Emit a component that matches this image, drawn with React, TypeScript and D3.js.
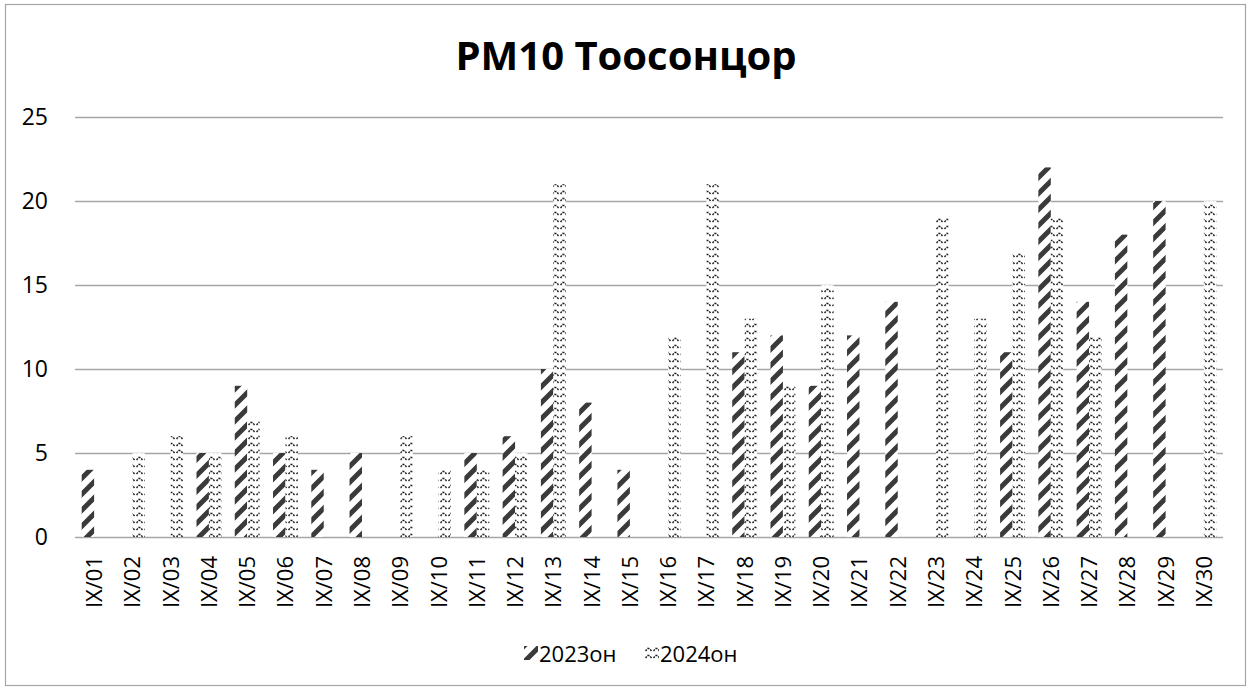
import React, { useEffect, useRef } from "react";
import * as d3 from "d3";

const days = [
  "IX/01", "IX/02", "IX/03", "IX/04", "IX/05", "IX/06", "IX/07", "IX/08", "IX/09", "IX/10",
  "IX/11", "IX/12", "IX/13", "IX/14", "IX/15", "IX/16", "IX/17", "IX/18", "IX/19", "IX/20",
  "IX/21", "IX/22", "IX/23", "IX/24", "IX/25", "IX/26", "IX/27", "IX/28", "IX/29", "IX/30",
];
const values2023 = [4, 0, 0, 5, 9, 5, 4, 5, 0, 0, 5, 6, 10, 8, 4, 0, 0, 11, 12, 9, 12, 14, 0, 0, 11, 22, 14, 18, 20, 0];
const values2024 = [0, 5, 6, 5, 7, 6, 0, 0, 6, 4, 4, 5, 21, 0, 0, 12, 21, 13, 9, 15, 0, 0, 19, 13, 17, 19, 12, 0, 0, 20];
const seriesNames = ["2023он", "2024он"];
const yTicks = [0, 5, 10, 15, 20, 25];

const FONT = "'Open Sans', 'Liberation Sans', sans-serif";

function App() {
  const ref = useRef<SVGSVGElement>(null);

  useEffect(() => {
    drawChart();
  }, []);

  function drawChart() {
    const width = 1251;
    const height = 690;
    const plot = { left: 75, right: 1223, top: 117, bottom: 537 };

    const svg = d3.select(ref.current);
    svg.selectAll("*").remove();

    const defs = svg.append("defs");

    // 2023: wide upward diagonal stripes
    const p1 = defs
      .append("pattern")
      .attr("id", "pat2023")
      .attr("patternUnits", "userSpaceOnUse")
      .attr("width", 16)
      .attr("height", 16);
    p1.append("rect").attr("width", 16).attr("height", 16).attr("fill", "#fff");
    p1.append("path")
      .attr("d", "M-4,4 L4,-4 M-2,18 L18,-2 M12,20 L20,12")
      .attr("stroke", "#3a3a3a")
      .attr("stroke-width", 5);

    // 2024: small wavy marks
    const p2 = defs
      .append("pattern")
      .attr("id", "pat2024")
      .attr("patternUnits", "userSpaceOnUse")
      .attr("width", 8)
      .attr("height", 7);
    p2.append("rect").attr("width", 8).attr("height", 7).attr("fill", "#fff");
    p2.append("path")
      .attr("d", "M0.5,5 L2.5,2.5 L4.5,2.5 L6.5,5")
      .attr("fill", "none")
      .attr("stroke", "#1e1e1e")
      .attr("stroke-width", 1.4)
      .attr("stroke-dasharray", "2,1.2");

    svg
      .append("rect")
      .attr("x", 5.5)
      .attr("y", 4.5)
      .attr("width", width - 11)
      .attr("height", height - 9)
      .attr("fill", "#fff")
      .attr("stroke", "#a6a6a6")
      .attr("stroke-width", 1.2);

    const x0 = d3
      .scaleBand()
      .domain(days)
      .range([plot.left, plot.right])
      .paddingInner(0.35)
      .paddingOuter(0.175);
    const x1 = d3
      .scaleBand()
      .domain(seriesNames)
      .range([0, x0.bandwidth()]);
    const y = d3.scaleLinear().domain([0, 25]).range([plot.bottom, plot.top]);

    // gridlines
    svg
      .append("g")
      .selectAll("line")
      .data(yTicks)
      .enter()
      .append("line")
      .attr("x1", plot.left)
      .attr("x2", plot.right)
      .attr("y1", (d) => Math.round(y(d)) + 0.5)
      .attr("y2", (d) => Math.round(y(d)) + 0.5)
      .attr("stroke", "#a6a6a6")
      .attr("stroke-width", 1.5);

    svg
      .append("g")
      .selectAll("text")
      .data(yTicks)
      .enter()
      .append("text")
      .attr("x", 48)
      .attr("y", (d) => y(d))
      .attr("dy", "0.36em")
      .attr("text-anchor", "end")
      .style("font-family", FONT)
      .style("font-size", "23px")
      .attr("fill", "#000")
      .text((d) => d);

    const series = [values2023, values2024];
    const patterns = ["url(#pat2023)", "url(#pat2024)"];

    series.forEach((vals, si) => {
      svg
        .append("g")
        .selectAll("rect")
        .data(vals.map((v, i) => ({ day: days[i], v })))
        .enter()
        .filter((d) => d.v > 0)
        .append("rect")
        .attr("x", (d) => (x0(d.day) as number) + (x1(seriesNames[si]) as number))
        .attr("y", (d) => y(d.v))
        .attr("width", x1.bandwidth())
        .attr("height", (d) => y(0) - y(d.v))
        .attr("fill", patterns[si]);
    });

    // x labels
    svg
      .append("g")
      .selectAll("text")
      .data(days)
      .enter()
      .append("text")
      .attr(
        "transform",
        (d) => `translate(${(x0(d) as number) + x0.bandwidth() / 2 + 8},556) rotate(-90)`
      )
      .attr("text-anchor", "end")
      .style("font-family", FONT)
      .style("font-size", "22px")
      .attr("fill", "#000")
      .text((d) => d);

    svg
      .append("text")
      .attr("x", 626)
      .attr("y", 70)
      .attr("text-anchor", "middle")
      .style("font-family", FONT)
      .style("font-size", "40px")
      .style("font-weight", "bold")
      .attr("fill", "#000")
      .text("PM10 Тоосонцор");

    // legend
    const legendX = [524, 645];
    const legend = svg
      .append("g")
      .selectAll("g")
      .data(seriesNames)
      .enter()
      .append("g")
      .attr("transform", (_, i) => `translate(${legendX[i]},646)`);
    legend
      .append("rect")
      .attr("width", 14)
      .attr("height", 14)
      .attr("fill", (_, i) => patterns[i]);
    legend
      .append("text")
      .attr("x", 15)
      .attr("y", 16)
      .style("font-family", FONT)
      .style("font-size", "22px")
      .attr("fill", "#000")
      .text((d) => d);
  }

  return (
    <svg
      ref={ref}
      width={1251}
      height={690}
      style={{ position: "absolute", left: 0, top: 0, display: "block", background: "#fff" }}
    />
  );
}

export default App;
